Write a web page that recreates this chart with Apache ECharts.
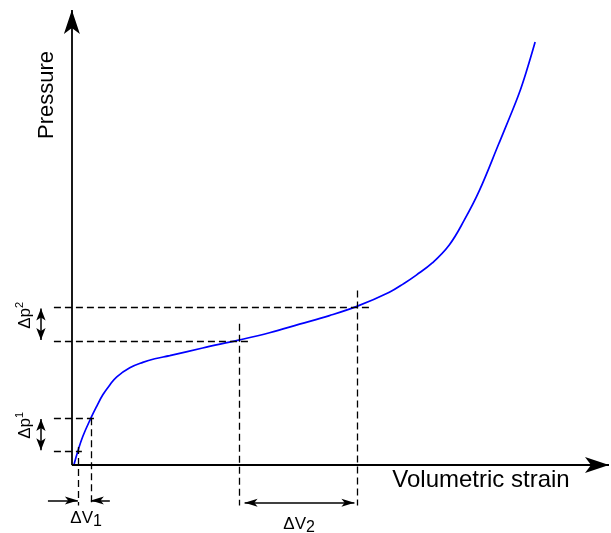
<!DOCTYPE html>
<html>
<head>
<meta charset="utf-8">
<script src="https://cdn.jsdelivr.net/npm/echarts@6/dist/echarts.min.js"></script>
<style>
  html, body { margin: 0; padding: 0; background: #fff; }
  #chart { width: 611px; height: 533px; }
</style>
</head>
<body>
<div id="chart"></div>
<script>
// curve (arbitrary units: strain, pressure)
const curveX = [0.4, 1.2, 2.2, 3.8, 5.0, 6.2, 7.6, 9.0, 11.6, 14.2, 16.6, 19.6, 26.2, 33.6, 39.6, 45.6, 51.6, 57.2, 63.6, 66.6, 69.0, 72.2, 75.6, 78.6, 81.6, 85.6, 87.6, 89.6, 91.2, 92.8];
const curveY = [0, 3.1, 6.4, 10.4, 13.1, 15.6, 17.8, 19.6, 21.6, 22.8, 23.6, 24.3, 26.0, 27.8, 29.4, 31.3, 33.2, 35.3, 38.4, 40.4, 42.2, 44.9, 48.9, 54.4, 60.9, 71.6, 77.0, 82.6, 88.0, 94.0];

// the two strain intervals and pressure intervals
const dV1 = [1.2, 3.9];
const dV2 = [33.6, 57.2];
const dp1 = [3.1, 10.4];
const dp2 = [27.6, 35.0];

// axis extents (tips of the arrows)
const xEnd = 107.6;
const yEnd = 101.1;

const FONT = 'Liberation Sans, Arial, sans-serif';

// dashed guide lines: [from, to]
const guides = [
  [[-3.6, dp1[0]], [dV1[0] + 0.8, dp1[0]]],
  [[-3.6, dp1[1]], [dV1[1] + 1.0, dp1[1]]],
  [[dV1[0], dp1[0] + 0.9], [dV1[0], -9]],
  [[dV1[1], dp1[1]], [dV1[1], -9]],
  [[-3.6, dp2[0]], [dV2[0] + 2.0, dp2[0]]],
  [[-3.6, dp2[1]], [dV2[1] + 2.4, dp2[1]]],
  [[dV2[0], dp2[0] + 3.8], [dV2[0], -9]],
  [[dV2[1], dp2[1] + 3.8], [dV2[1], -9]]
];

function markSeries(pairs, symbol, size, lineStyle) {
  return {
    type: 'line',
    data: [],
    silent: true,
    markLine: {
      silent: true,
      animation: false,
      symbol: symbol,
      symbolSize: size,
      label: { show: false },
      emphasis: { disabled: true },
      lineStyle: lineStyle,
      data: pairs.map(p => [{ coord: p[0] }, { coord: p[1] }])
    }
  };
}

function txt(x, y, text, size, align, rot) {
  return {
    type: 'text', x: x, y: y, rotation: rot || 0,
    style: { text: text, fontSize: size, fontFamily: FONT, fill: '#000', align: align, verticalAlign: 'middle' }
  };
}

const chart = echarts.init(document.getElementById('chart'));
chart.setOption({
  animation: false,
  grid: { left: 2, top: 1.5, width: 610, height: 531 },
  xAxis: { type: 'value', min: -14, max: 108, show: false },
  yAxis: { type: 'value', min: -15, max: 103, show: false },
  series: [
    // axes
    markSeries([[[0, 0], [xEnd, 0]], [[0, 0], [0, yEnd]]], ['none', 'arrow'], [12, 24],
      { color: '#000', width: 1.8, type: 'solid' }),
    // guides
    markSeries(guides, ['none', 'none'], 0,
      { color: '#000', width: 1.3, type: [7, 4] }),
    // double arrows
    markSeries([
      [[-6.2, dp1[0] + 0.2], [-6.2, dp1[1] - 0.2]],
      [[-6.2, dp2[0] + 0.2], [-6.2, dp2[1] - 0.2]]
    ], ['arrow', 'arrow'], [7, 12],
      { color: '#000', width: 1.5, type: 'solid' }),
    markSeries([
      [[dV2[0] + 1.0, -8.4], [dV2[1] - 0.6, -8.4]]
    ], ['arrow', 'arrow'], [6, 13],
      { color: '#000', width: 1.5, type: 'solid' }),
    // single arrows for dV1
    markSeries([
      [[-4.8, -7.9], [dV1[0], -7.9]],
      [[7.6, -7.9], [dV1[1] - 0.1, -7.9]]
    ], ['none', 'arrow'], [6, 13],
      { color: '#000', width: 1.5, type: 'solid' }),
    {
      type: 'line',
      data: curveX.map((x, i) => [x, curveY[i]]),
      smooth: 0.4,
      showSymbol: false,
      silent: true,
      lineStyle: { color: '#0000ff', width: 1.7 }
    }
  ],
  graphic: [
    txt(47, 95, 'Pressure', 22, 'center', Math.PI / 2),
    txt(481, 480, 'Volumetric strain', 24, 'center'),
    txt(93, 518, 'ΔV', 17, 'right'),
    txt(93, 522, '1', 16, 'left'),
    txt(306, 524, 'ΔV', 17, 'right'),
    txt(306, 528, '2', 16, 'left'),
    txt(25, 308, 'Δp', 17, 'right', Math.PI / 2),
    txt(20, 308, '2', 11, 'left', Math.PI / 2),
    txt(25, 418, 'Δp', 17, 'right', Math.PI / 2),
    txt(20, 418, '1', 11, 'left', Math.PI / 2)
  ]
});
</script>
</body>
</html>
